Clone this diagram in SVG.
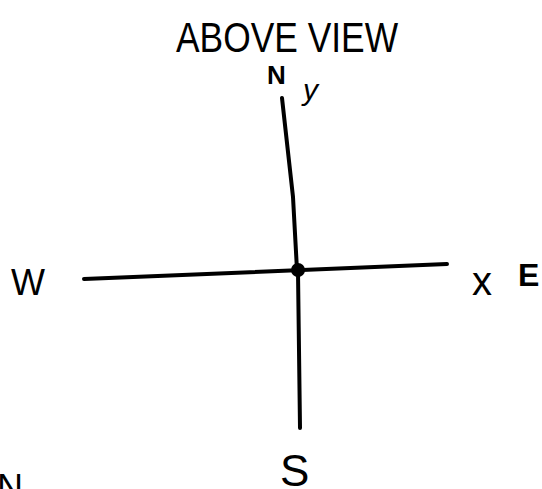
<svg xmlns="http://www.w3.org/2000/svg" width="542" height="489" viewBox="0 0 542 489">
<style>
.t{font-family:"Liberation Sans",Arial,sans-serif;fill:#000}
.ln{stroke:#000;stroke-width:4;fill:none;stroke-linecap:round;stroke-linejoin:round}
</style>
<rect width="542" height="489" fill="#fff"/>
<g id="title"><text class="t" x="176" y="52" font-size="42" textLength="222" lengthAdjust="spacingAndGlyphs">ABOVE VIEW</text></g>
<g id="connectors">
<path class="ln" d="M282 98 L293 197 L297 270"/>
<path class="ln" d="M298 272 L300 428"/>
<path class="ln" d="M84 279 L447 264"/>
</g>
<g id="origin"><circle cx="298" cy="270" r="7" fill="#000"/></g>
<g id="labelN"><text class="t" x="267" y="84" font-size="26" font-weight="bold">N</text></g>
<g id="labelY"><text class="t" x="303" y="100" font-size="30" font-style="italic">y</text></g>
<g id="labelW"><text class="t" x="11" y="295" font-size="36">W</text></g>
<g id="labelX"><text class="t" x="472" y="295" font-size="40">x</text></g>
<g id="labelE"><text class="t" x="518" y="286" font-size="32" font-weight="bold">E</text></g>
<g id="labelS"><text class="t" x="280" y="486" font-size="44">S</text></g>
<g id="labelN2"><text class="t" x="-3" y="500" font-size="36">N</text></g>
</svg>
